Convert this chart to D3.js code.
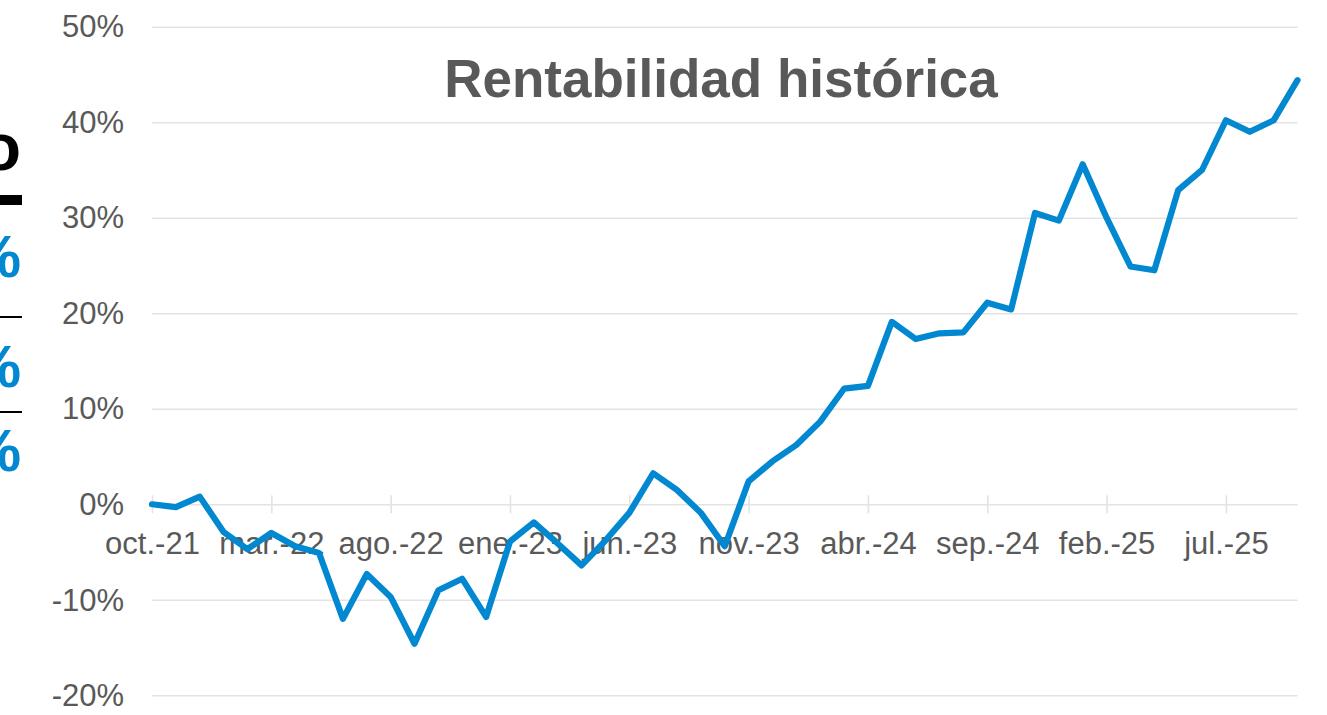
<!DOCTYPE html>
<html>
<head>
<meta charset="utf-8">
<script src="https://cdn.jsdelivr.net/npm/d3@7"></script>
<style>
  html, body { margin: 0; padding: 0; background: #ffffff; }
  svg { display: block; font-family: "Liberation Sans", Arial, sans-serif; }
</style>
</head>
<body>
<svg id="chart" width="1327" height="715"></svg>
<script>
const categories = ["oct.-21","nov.-21","dic.-21","ene.-22","feb.-22","mar.-22","abr.-22","may.-22","jun.-22","jul.-22","ago.-22","sep.-22","oct.-22","nov.-22","dic.-22","ene.-23","feb.-23","mar.-23","abr.-23","may.-23","jun.-23","jul.-23","ago.-23","sep.-23","oct.-23","nov.-23","dic.-23","ene.-24","feb.-24","mar.-24","abr.-24","may.-24","jun.-24","jul.-24","ago.-24","sep.-24","oct.-24","nov.-24","dic.-24","ene.-25","feb.-25","mar.-25","abr.-25","may.-25","jun.-25","jul.-25","ago.-25","sep.-25","oct.-25"];
const rentabilidad = [0.0,-0.3,0.8,-2.9,-4.7,-3.0,-4.4,-5.1,-12.0,-7.3,-9.7,-14.6,-9.0,-7.8,-11.8,-3.9,-1.9,-4.1,-6.4,-3.8,-0.9,3.25,1.5,-0.9,-4.4,2.4,4.5,6.2,8.65,12.1,12.4,19.1,17.3,17.9,18.0,21.1,20.4,30.5,29.7,35.6,30.0,24.9,24.5,32.9,35.0,40.2,39.0,40.2,44.4];
const yTicks = [-20,-10,0,10,20,30,40,50];
const yTickLabels = ["-20%","-10%","0%","10%","20%","30%","40%","50%"];
const xTickLabels = ["oct.-21","mar.-22","ago.-22","ene.-23","jun.-23","nov.-23","abr.-24","sep.-24","feb.-25","jul.-25"];
const title = "Rentabilidad histórica";
const sideMarks = ["o","%","%","%"];

const svg = d3.select("#chart");
const mLeft = 152, mRight = 1297.5, mTop = 26.7, mBottom = 695.3;

const x = d3.scalePoint().domain(categories).range([mLeft, mRight]);
const y = d3.scaleLinear().domain([-20, 50]).range([mBottom, mTop]);

svg.append("rect").attr("width", 1327).attr("height", 715).attr("fill", "#fff");

// gridlines + y labels
const yAxis = d3.axisLeft(y).tickValues(yTicks)
  .tickSize(-(mRight - mLeft)).tickPadding(28)
  .tickFormat((d, i) => yTickLabels[i]);
const gy = svg.append("g").attr("transform", `translate(${mLeft},0)`).call(yAxis);
gy.select(".domain").remove();
gy.selectAll(".tick line").attr("stroke", "#e3e3e3").attr("stroke-width", 1.6);
gy.selectAll(".tick text").attr("fill", "#595959").attr("font-size", 31)
  .attr("dy", "0.33em").attr("x", -28);

// x axis ticks on the 0% line
const xAxis = d3.axisBottom(x).tickValues(xTickLabels).tickSize(9).tickPadding(0);
const gx = svg.append("g").attr("transform", `translate(0,${y(0)})`).call(xAxis);
gx.select(".domain").remove();
gx.selectAll(".tick line").attr("stroke", "#e3e3e3").attr("stroke-width", 1.6).attr("y1", -9).attr("y2", 9);
gx.selectAll(".tick text").attr("fill", "#595959").attr("font-size", 31)
  .attr("dy", null).attr("y", 554 - y(0));

// title
svg.append("text").attr("x", 721).attr("y", 97).attr("text-anchor", "middle")
  .attr("font-size", 53).attr("font-weight", "bold").attr("fill", "#595959").text(title);

// line
const line = d3.line().x((d, i) => x(categories[i])).y(d => y(d));
svg.append("path").datum(rentabilidad).attr("d", line)
  .attr("fill", "none").attr("stroke", "#0288d1").attr("stroke-width", 6.2)
  .attr("stroke-linejoin", "round").attr("stroke-linecap", "round");

// cut-off marks at left edge (neighbouring table, clipped in the reference too)
const sideY = [170, 277, 387, 471];
sideMarks.forEach((t, i) => {
  svg.append("text").attr("x", 21).attr("y", sideY[i]).attr("text-anchor", "end")
    .attr("font-size", i === 0 ? 66 : 60).attr("font-weight", "bold")
    .attr("fill", i === 0 ? "#000" : "#0288d1").text(t);
});
svg.append("rect").attr("x", 0).attr("y", 195).attr("width", 22).attr("height", 10).attr("fill", "#000");
svg.append("rect").attr("x", 0).attr("y", 316).attr("width", 22).attr("height", 2).attr("fill", "#000");
svg.append("rect").attr("x", 0).attr("y", 411).attr("width", 22).attr("height", 2).attr("fill", "#000");
</script>
</body>
</html>
